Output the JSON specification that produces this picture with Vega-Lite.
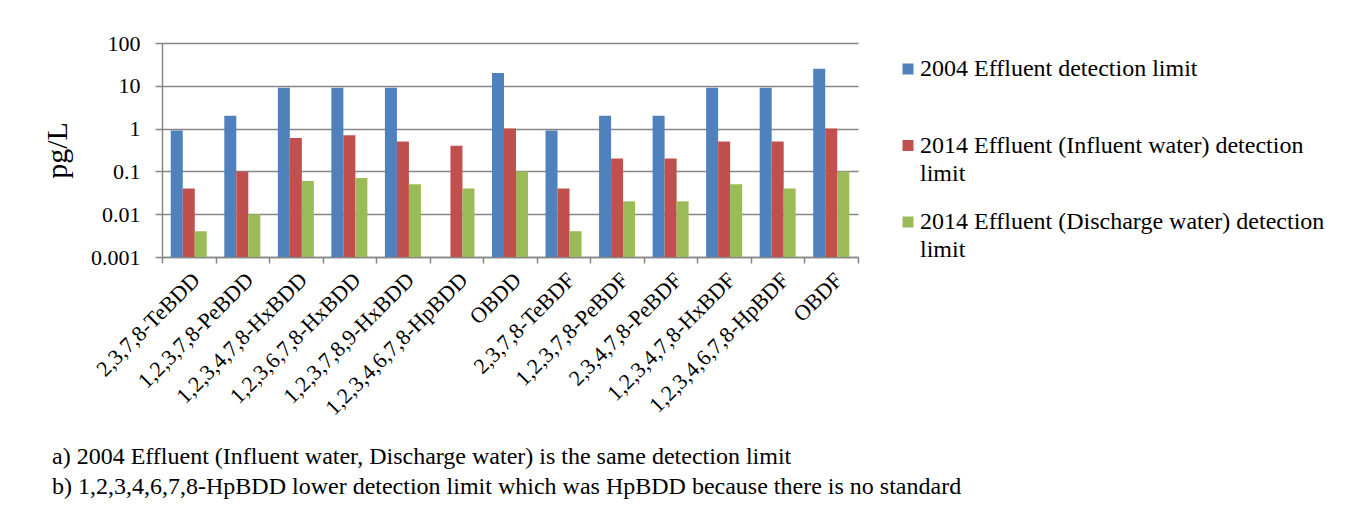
{
  "$schema": "https://vega.github.io/schema/vega-lite/v6.json",
  "width": 696,
  "height": 214,
  "autosize": {"type": "none"},
  "padding": {"left": 162, "top": 43, "right": 499, "bottom": 258},
  "background": "white",
  "title": {
    "text": [
      "a) 2004 Effluent (Influent water, Discharge water) is the same detection limit",
      "b) 1,2,3,4,6,7,8-HpBDD lower detection limit which was HpBDD because there is no standard"
    ],
    "orient": "bottom",
    "anchor": "start",
    "frame": "group",
    "dx": -110,
    "offset": 26,
    "fontSize": 24,
    "font": "Liberation Serif",
    "fontWeight": "normal",
    "lineHeight": 30,
    "color": "#000000"
  },
  "data": {
    "values": [
      {"compound": "2,3,7,8-TeBDD", "series": "2004 Effluent detection limit", "value": 0.9},
      {"compound": "2,3,7,8-TeBDD", "series": "2014 Effluent (Influent water) detection limit", "value": 0.04},
      {"compound": "2,3,7,8-TeBDD", "series": "2014 Effluent (Discharge water) detection limit", "value": 0.004},
      {"compound": "1,2,3,7,8-PeBDD", "series": "2004 Effluent detection limit", "value": 2},
      {"compound": "1,2,3,7,8-PeBDD", "series": "2014 Effluent (Influent water) detection limit", "value": 0.1},
      {"compound": "1,2,3,7,8-PeBDD", "series": "2014 Effluent (Discharge water) detection limit", "value": 0.01},
      {"compound": "1,2,3,4,7,8-HxBDD", "series": "2004 Effluent detection limit", "value": 9},
      {"compound": "1,2,3,4,7,8-HxBDD", "series": "2014 Effluent (Influent water) detection limit", "value": 0.6},
      {"compound": "1,2,3,4,7,8-HxBDD", "series": "2014 Effluent (Discharge water) detection limit", "value": 0.06},
      {"compound": "1,2,3,6,7,8-HxBDD", "series": "2004 Effluent detection limit", "value": 9},
      {"compound": "1,2,3,6,7,8-HxBDD", "series": "2014 Effluent (Influent water) detection limit", "value": 0.7},
      {"compound": "1,2,3,6,7,8-HxBDD", "series": "2014 Effluent (Discharge water) detection limit", "value": 0.07},
      {"compound": "1,2,3,7,8,9-HxBDD", "series": "2004 Effluent detection limit", "value": 9},
      {"compound": "1,2,3,7,8,9-HxBDD", "series": "2014 Effluent (Influent water) detection limit", "value": 0.5},
      {"compound": "1,2,3,7,8,9-HxBDD", "series": "2014 Effluent (Discharge water) detection limit", "value": 0.05},
      {"compound": "1,2,3,4,6,7,8-HpBDD", "series": "2014 Effluent (Influent water) detection limit", "value": 0.4},
      {"compound": "1,2,3,4,6,7,8-HpBDD", "series": "2014 Effluent (Discharge water) detection limit", "value": 0.04},
      {"compound": "OBDD", "series": "2004 Effluent detection limit", "value": 20},
      {"compound": "OBDD", "series": "2014 Effluent (Influent water) detection limit", "value": 1},
      {"compound": "OBDD", "series": "2014 Effluent (Discharge water) detection limit", "value": 0.1},
      {"compound": "2,3,7,8-TeBDF", "series": "2004 Effluent detection limit", "value": 0.9},
      {"compound": "2,3,7,8-TeBDF", "series": "2014 Effluent (Influent water) detection limit", "value": 0.04},
      {"compound": "2,3,7,8-TeBDF", "series": "2014 Effluent (Discharge water) detection limit", "value": 0.004},
      {"compound": "1,2,3,7,8-PeBDF", "series": "2004 Effluent detection limit", "value": 2},
      {"compound": "1,2,3,7,8-PeBDF", "series": "2014 Effluent (Influent water) detection limit", "value": 0.2},
      {"compound": "1,2,3,7,8-PeBDF", "series": "2014 Effluent (Discharge water) detection limit", "value": 0.02},
      {"compound": "2,3,4,7,8-PeBDF", "series": "2004 Effluent detection limit", "value": 2},
      {"compound": "2,3,4,7,8-PeBDF", "series": "2014 Effluent (Influent water) detection limit", "value": 0.2},
      {"compound": "2,3,4,7,8-PeBDF", "series": "2014 Effluent (Discharge water) detection limit", "value": 0.02},
      {"compound": "1,2,3,4,7,8-HxBDF", "series": "2004 Effluent detection limit", "value": 9},
      {"compound": "1,2,3,4,7,8-HxBDF", "series": "2014 Effluent (Influent water) detection limit", "value": 0.5},
      {"compound": "1,2,3,4,7,8-HxBDF", "series": "2014 Effluent (Discharge water) detection limit", "value": 0.05},
      {"compound": "1,2,3,4,6,7,8-HpBDF", "series": "2004 Effluent detection limit", "value": 9},
      {"compound": "1,2,3,4,6,7,8-HpBDF", "series": "2014 Effluent (Influent water) detection limit", "value": 0.5},
      {"compound": "1,2,3,4,6,7,8-HpBDF", "series": "2014 Effluent (Discharge water) detection limit", "value": 0.04},
      {"compound": "OBDF", "series": "2004 Effluent detection limit", "value": 25},
      {"compound": "OBDF", "series": "2014 Effluent (Influent water) detection limit", "value": 1},
      {"compound": "OBDF", "series": "2014 Effluent (Discharge water) detection limit", "value": 0.1}
    ]
  },
  "mark": {"type": "bar"},
  "encoding": {
    "x": {
      "field": "compound",
      "type": "nominal",
      "sort": null,
      "scale": {"paddingInner": 0, "paddingOuter": 0},
      "axis": {
        "title": null,
        "labelAngle": -45,
        "labelAlign": "right",
        "labelBaseline": "top",
        "labelFontSize": 22,
        "labelFont": "Liberation Serif",
        "labelColor": "#000000",
        "labelPadding": 6,
        "labelLimit": 400,
        "tickBand": "extent",
        "ticks": true,
        "tickSize": 6,
        "tickColor": "#868686",
        "tickWidth": 1.5,
        "domainColor": "#868686",
        "domainWidth": 1.5,
        "grid": false
      }
    },
    "xOffset": {
      "field": "series",
      "type": "nominal",
      "sort": [
        "2004 Effluent detection limit",
        "2014 Effluent (Influent water) detection limit",
        "2014 Effluent (Discharge water) detection limit"
      ],
      "scale": {"paddingInner": 0, "paddingOuter": 0.73}
    },
    "y": {
      "field": "value",
      "type": "quantitative",
      "scale": {"type": "log", "domain": [0.001, 100]},
      "axis": {
        "title": "pg/L",
        "titleFontSize": 30,
        "titleFont": "Liberation Serif",
        "titleFontWeight": "normal",
        "titleColor": "#000000",
        "titlePadding": 18,
        "values": [0.001, 0.01, 0.1, 1, 10, 100],
        "format": "~g",
        "labelFontSize": 22,
        "labelFont": "Liberation Serif",
        "labelColor": "#000000",
        "labelPadding": 15,
        "tickSize": 7,
        "tickColor": "#868686",
        "tickWidth": 1.5,
        "domainColor": "#868686",
        "domainWidth": 1.5,
        "grid": true,
        "gridColor": "#868686",
        "gridWidth": 1.5
      }
    },
    "y2": {"datum": 0.001},
    "color": {
      "field": "series",
      "type": "nominal",
      "scale": {
        "domain": [
          "2004 Effluent detection limit",
          "2014 Effluent (Influent water) detection limit",
          "2014 Effluent (Discharge water) detection limit"
        ],
        "range": ["#4F81BD", "#C0504D", "#9BBB59"]
      },
      "legend": {
        "title": null,
        "orient": "none",
        "legendX": 734,
        "legendY": 14,
        "padding": 0,
        "labelFontSize": 24,
        "labelFont": "Liberation Serif",
        "labelColor": "#000000",
        "labelLimit": 600,
        "labelOffset": 0,
        "labelBaseline": "middle",
        "symbolType": "square",
        "symbolSize": 121,
        "symbolStrokeWidth": 0,
        "rowPadding": 24.5,
        "labelExpr": "indexof(datum.label, '2004') == 0 ? [datum.label, ''] : [replace(datum.label, ' limit', ''), 'limit']"
      }
    }
  },
  "config": {
    "view": {"stroke": null},
    "font": "Liberation Serif",
    "style": {"guide-label": {"lineHeight": 28}}
  }
}
